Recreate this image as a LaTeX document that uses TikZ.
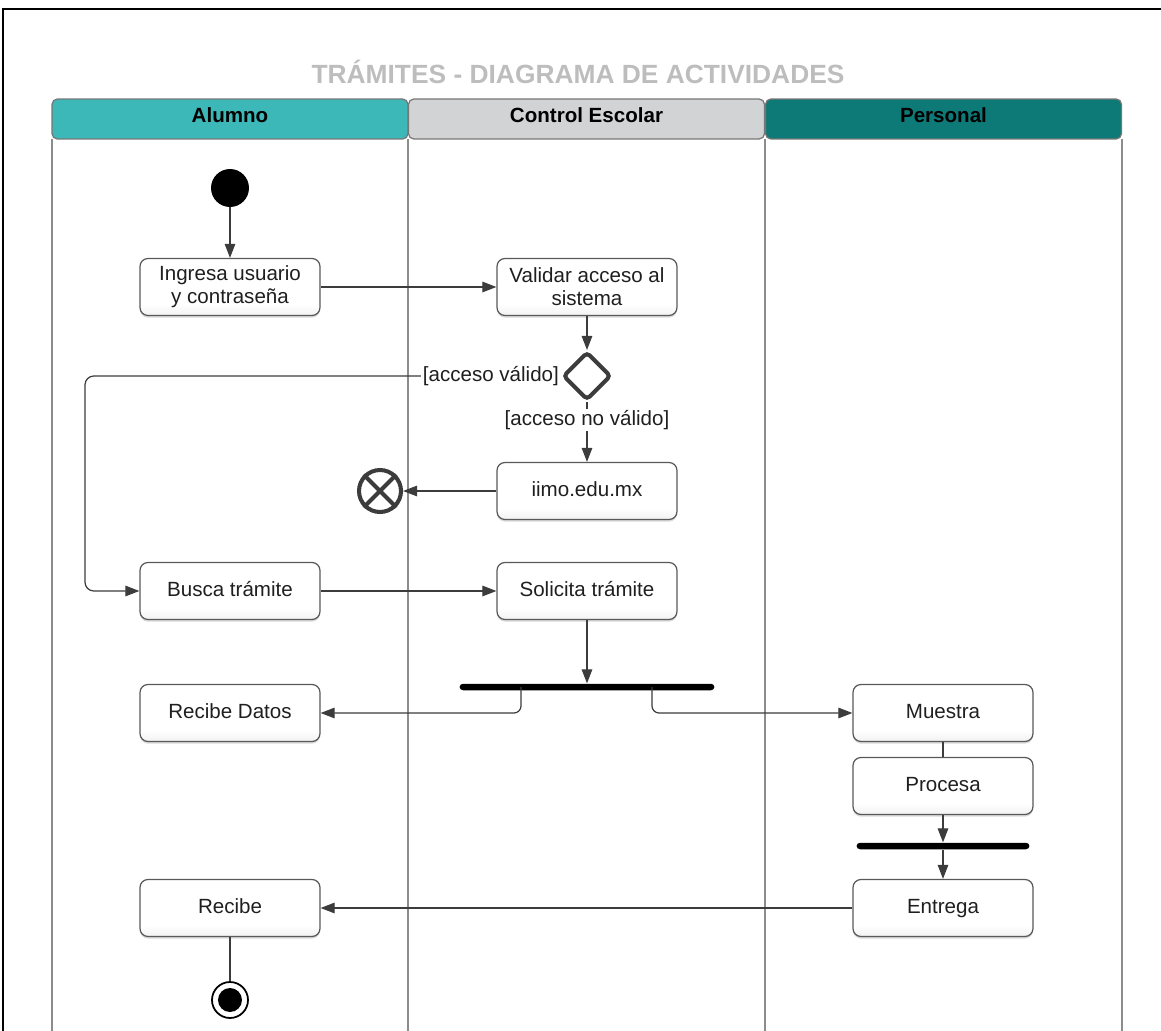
\documentclass[tikz,border=0pt]{standalone}
\usepackage{fontspec}
\setmainfont{Liberation Sans}
\usetikzlibrary{calc, positioning, arrows.meta, shapes.geometric, shadows}

\definecolor{alumnoteal}{HTML}{3DB8B9}
\definecolor{controlgray}{HTML}{D2D3D5}
\definecolor{personalteal}{HTML}{0E7A78}
\definecolor{flowgray}{HTML}{3C3C3C}
\definecolor{lanegray}{HTML}{8C8C8C}
\definecolor{titlegray}{HTML}{BDBDBD}

\pgfdeclareverticalshading{boxshade}{100bp}{color(0bp)=(gray!60); color(18bp)=(gray!18); color(35bp)=(white); color(100bp)=(white)}

\tikzset{
  boxfont/.style={font=\fontsize{11.7}{13}\selectfont, text=black!88},
  activity/.style={boxfont, draw=flowgray!85, line width=0.7pt, rounded corners=4.5pt,
    shading=boxshade, align=center,
    minimum width=3.6cm, minimum height=1.14cm, inner sep=1pt,
    drop shadow={shadow xshift=0pt, shadow yshift=-1.2pt, opacity=0.3}},
  oneline/.style={text height=8.4pt, text depth=2.4pt},
  header/.style={draw=flowgray!70, line width=0.7pt, rounded corners=3pt,
    minimum width=7.12cm, minimum height=0.8cm, inner sep=0pt, text height=8.4pt, text depth=4pt,
    font=\fontsize{11.7}{13}\selectfont\bfseries, text=black},
  startnode/.style={circle, fill=black, minimum size=0.76cm, inner sep=0pt},
  endnode/.style={circle, draw=black, line width=1pt, fill=white, minimum size=0.72cm, inner sep=0pt,
    path picture={\fill[black] (path picture bounding box.center) circle (0.24cm);}},
  flowfinal/.style={circle, draw=flowgray, line width=2.3pt, fill=white, minimum size=0.84cm, inner sep=0pt},
  decision/.style={diamond, draw=flowgray, line width=2.3pt, rounded corners=2pt, fill=white,
    minimum width=0.96cm, minimum height=0.96cm, inner sep=0pt},
  syncbar/.style={rectangle, fill=black, rounded corners=2pt, minimum height=0.13cm, inner sep=0pt},
  guard/.style={boxfont, fill=white, inner sep=1pt},
  flowline/.style={draw=flowgray, line width=0.7pt},
  flow/.style={flowline, -{Triangle[length=8pt, width=6pt]}},
}

\begin{document}
\begin{tikzpicture}[x=0.02cm, y=-0.02cm]
	\useasboundingbox (0,0) rectangle (1161,1031);
	\draw[black, line width=0.8pt] (3,9) rectangle (1175,1045);

	\node[font=\fontsize{15}{17}\selectfont\bfseries, text=titlegray] (titulo) at (578,72) {TRÁMITES - DIAGRAMA DE ACTIVIDADES};

	% carriles
	\foreach \x in {52,408,765,1122}
		\draw[lanegray, line width=0.8pt] (\x,139) -- (\x,1040);
	\node[header, fill=alumnoteal] (lane alumno) at (230,119) {Alumno};
	\node[header, fill=controlgray] (lane control) at (586.5,119) {Control Escolar};
	\node[header, fill=personalteal] (lane personal) at (943.5,119) {Personal};

	% actividades
	\node[startnode] (inicio) at (230,188) {};
	\node[activity] (ingresa) at (230,287) {Ingresa usuario\\y contraseña};
	\node[activity] (validar) at (587,287) {Validar acceso al\\sistema};
	\node[decision] (acceso) at (587,376) {};
	\node[activity, oneline] (iimo) at (587,491) {iimo.edu.mx};
	\node[flowfinal] (salida) at (380,491) {};
	\draw[flowgray, line width=2.3pt] (salida.north west) -- (salida.south east)
		(salida.north east) -- (salida.south west);
	\node[activity, oneline] (busca) at (230,591) {Busca trámite};
	\node[activity, oneline] (solicita) at (587,591) {Solicita trámite};
	\node[syncbar, minimum width=5.1cm] (fork) at (587,687) {};
	\node[activity, oneline] (recibe datos) at (230,713) {Recibe Datos};
	\node[activity, oneline] (muestra) at (943,713) {Muestra};
	\node[activity, oneline] (procesa) at (943,786) {Procesa};
	\node[syncbar, minimum width=3.46cm] (join) at (943,846) {};
	\node[activity, oneline] (entrega) at (943,908) {Entrega};
	\node[activity, oneline] (recibe) at (230,908) {Recibe};
	\node[endnode] (fin) at (230,1000) {};

	\coordinate (vuelta) at (85,376);

	% flujos
	\draw[flow] (inicio) -- (ingresa);
	\draw[flow] (ingresa) -- (validar);
	\draw[flow] (validar) -- (acceso);
	\draw[flow, rounded corners=5pt] (acceso.west) -- (vuelta) |- (busca.west);
	\node[guard, anchor=east] (valido) at (acceso.west) {[acceso válido]};
	\draw[flow] (acceso) -- node[guard, pos=0.3] (no valido) {[acceso no válido]} (iimo);
	\draw[flow] (iimo) -- (salida);
	\draw[flow] (busca) -- (solicita);
	\draw[flow] (solicita) -- (fork);
	\draw[flow, rounded corners=4pt] ($(fork.center)+(-66,0)$) |- (recibe datos.east);
	\draw[flow, rounded corners=4pt] ($(fork.center)+(65,0)$) |- (muestra.west);
	\draw[flowline] (muestra) -- (procesa);
	\draw[flow] (procesa) -- (join);
	\draw[flow] (join) -- (entrega);
	\draw[flow] (entrega) -- (recibe);
	\draw[flowline] (recibe) -- (fin);
\end{tikzpicture}
\end{document}
